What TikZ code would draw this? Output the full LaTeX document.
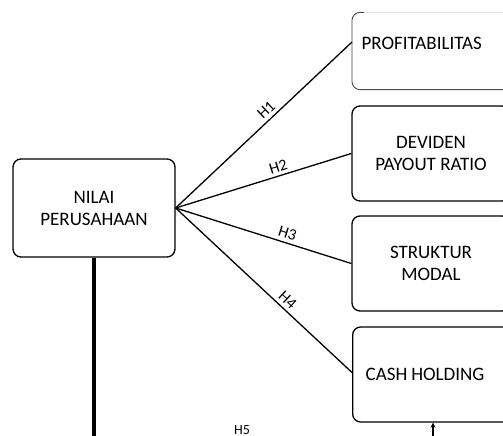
\documentclass[tikz,border=0pt]{standalone}
\usepackage{fontspec}
\setmainfont{Carlito}
\usetikzlibrary{arrows.meta}
\tikzset{
  varbox/.style={draw, line width=1.3pt, rounded corners=8pt, minimum width=158pt,
    minimum height=95pt, align=center, font=\fontsize{19}{22}\selectfont},
  leftbox/.style={varbox, align=left, anchor=west},
  hyp/.style={line width=1.3pt},
  hlabel/.style={font=\fontsize{16}{18}\selectfont, sloped, above, inner sep=3.5pt}
}

\begin{document}
\begin{tikzpicture}[x=1pt, y=-1pt]
\useasboundingbox (0,0) rectangle (503,436);
\clip (0,0) rectangle (503,436);
\node[varbox, minimum width=162pt, minimum height=98pt] (nilai) at (94,208) {NILAI\\PERUSAHAAN};
\node[leftbox, draw=none, minimum height=76pt, text height=13pt, text depth=17pt,
  text width=140pt, inner xsep=9pt] (prof) at (352,51) {PROFITABILITAS};
\draw[gray!25, line width=0.8pt] (prof.north east) -- ([xshift=12pt]prof.north west);
\draw[black!70, line width=0.9pt, rounded corners=8pt] ([xshift=12pt]prof.north west) -- (prof.north west) -- (prof.south west) -- (prof.south east);
\node[varbox] (dpr) at (431,153.5) {DEVIDEN\\PAYOUT RATIO};
\node[varbox] (struktur) at (431,263.5) {STRUKTUR\\MODAL};
\node[leftbox, text width=132pt, inner xsep=13pt] (cash) at (352,374.5) {CASH\hspace{4pt}HOLDING};
% hipotesis
\draw[hyp] (nilai.east) -- ([yshift=9pt]prof.west) node[hlabel, pos=0.55] {H1};
\draw[hyp] (nilai.east) -- (dpr.west) node[hlabel, pos=0.6] {H2};
\draw[hyp] (nilai.east) -- (struktur.west) node[hlabel, pos=0.62] {H3};
\draw[hyp] (nilai.east) -- ([yshift=2pt]cash.west) node[hlabel, pos=0.6] {H4};
\draw[line width=4pt] (nilai.south) -- (nilai.south |- 0,440) coordinate (h5foot);
\node[font=\fontsize{14}{16}\selectfont, anchor=base, inner sep=0pt] (h5) at (242,434) {H5};
\coordinate (cashfoot) at (433,440);
\draw[line width=1.6pt, -{Stealth[length=5pt,width=5pt]}] (cashfoot) -- (cashfoot |- cash.south);
\end{tikzpicture}
\end{document}
